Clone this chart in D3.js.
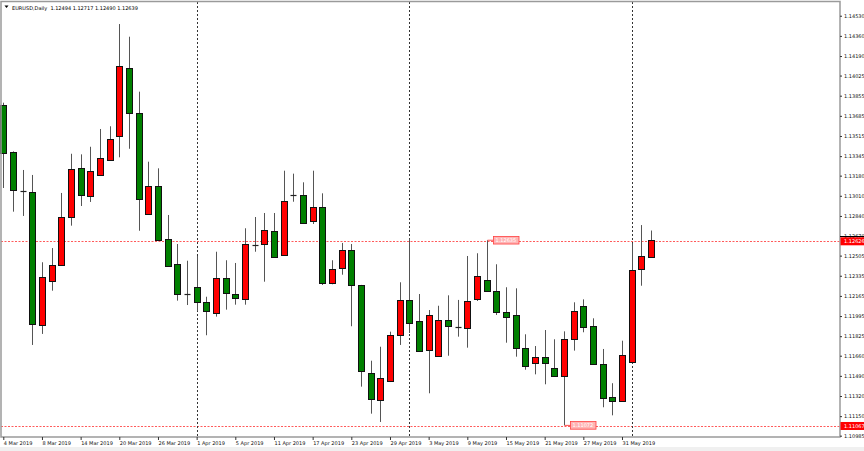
<!DOCTYPE html>
<html><head><meta charset="utf-8">
<script src="https://cdn.jsdelivr.net/npm/d3@7"></script>
<style>
body{margin:0;background:#fff}
svg{display:block}
text{font-family:"DejaVu Sans",sans-serif}
</style></head>
<body><svg id="chart" width="864" height="451"></svg>
<script>
// ---- data ----
const dates = [
 "2019-03-04","2019-03-05","2019-03-06","2019-03-07","2019-03-08",
 "2019-03-11","2019-03-12","2019-03-13","2019-03-14","2019-03-15",
 "2019-03-18","2019-03-19","2019-03-20","2019-03-21","2019-03-22",
 "2019-03-25","2019-03-26","2019-03-27","2019-03-28","2019-03-29",
 "2019-04-01","2019-04-02","2019-04-03","2019-04-04","2019-04-05",
 "2019-04-08","2019-04-09","2019-04-10","2019-04-11","2019-04-12",
 "2019-04-15","2019-04-16","2019-04-17","2019-04-18","2019-04-19",
 "2019-04-22","2019-04-23","2019-04-24","2019-04-25","2019-04-26",
 "2019-04-29","2019-04-30","2019-05-01","2019-05-02","2019-05-03",
 "2019-05-06","2019-05-07","2019-05-08","2019-05-09","2019-05-10",
 "2019-05-13","2019-05-14","2019-05-15","2019-05-16","2019-05-17",
 "2019-05-20","2019-05-21","2019-05-22","2019-05-23","2019-05-24",
 "2019-05-27","2019-05-28","2019-05-29","2019-05-30","2019-05-31",
 "2019-06-03","2019-06-04","2019-06-05"
];
const openP = [
 1.13776,1.13380,1.13053,1.13045,1.11920,1.12291,1.12423,1.12829,1.13247,1.13006,
 1.13183,1.13315,1.13515,1.14091,1.13709,1.12859,1.13095,1.12643,1.12432,1.12181,
 1.12240,1.12114,1.12023,1.12316,1.12179,1.12142,1.12590,1.12601,1.12713,1.12508,
 1.13021,1.13019,1.12797,1.12915,1.12272,1.12398,1.12550,1.12255,1.11517,1.11289,
 1.11444,1.11833,1.12128,1.11956,1.11711,1.11660,1.11962,1.11888,1.11892,1.12136,
 1.12297,1.12209,1.12029,1.12001,1.11725,1.11596,1.11652,1.11559,1.11492,1.11801,
 1.12077,1.11914,1.11593,1.11309,1.11281,1.11607,1.12392,1.12494
];
const highP = [
 1.13796,1.13385,1.13228,1.13186,1.12449,1.12569,1.13034,1.13365,1.13360,1.13424,
 1.13574,1.13597,1.14460,1.14353,1.13889,1.13298,1.13242,1.12848,1.12603,1.12462,
 1.12502,1.12158,1.12538,1.12466,1.12443,1.12736,1.12831,1.12865,1.12865,1.13222,
 1.13197,1.13124,1.13222,1.13031,1.12466,1.12612,1.12603,1.12258,1.11618,1.11736,
 1.11863,1.12280,1.12650,1.12181,1.12046,1.12082,1.12170,1.12131,1.12502,1.12525,
 1.12635,1.12432,1.12238,1.12229,1.11841,1.11742,1.11877,1.11799,1.11866,1.12111,
 1.12136,1.11976,1.11717,1.11428,1.11787,1.12609,1.12763,1.12717
];
const lowP = [
 1.13076,1.12876,1.12840,1.11751,1.11844,1.12209,1.12420,1.12758,1.12924,1.12958,
 1.13180,1.13312,1.13335,1.13407,1.12715,1.12848,1.12635,1.12412,1.12125,1.12088,
 1.12038,1.11833,1.11990,1.12049,1.12091,1.12091,1.12538,1.12285,1.12491,1.12505,
 1.12960,1.12780,1.12772,1.12257,1.12263,1.12344,1.11909,1.11399,1.11171,1.11101,
 1.11438,1.11751,1.11852,1.11700,1.11343,1.11657,1.11660,1.11821,1.11728,1.12122,
 1.12201,1.12004,1.11770,1.11652,1.11542,1.11503,1.11419,1.11483,1.11072,1.11703,
 1.11858,1.11585,1.11225,1.11157,1.11270,1.11596,1.12251,1.12490
];
const closeP = [
 1.13374,1.13059,1.13042,1.11928,1.12322,1.12426,1.12834,1.13236,1.13019,1.13222,
 1.13329,1.13487,1.14105,1.13711,1.12985,1.13095,1.12637,1.12420,1.12184,1.12173,
 1.12111,1.12035,1.12314,1.12187,1.12150,1.12606,1.12595,1.12719,1.12496,1.12966,
 1.13019,1.12783,1.12915,1.12277,1.12392,1.12555,1.12260,1.11531,1.11295,1.11470,
 1.11838,1.12133,1.11939,1.11703,1.12004,1.11962,1.11909,1.11900,1.12122,1.12331,
 1.12204,1.12027,1.11990,1.11728,1.11574,1.11649,1.11596,1.11492,1.11799,1.12040,
 1.11903,1.11588,1.11303,1.11278,1.11669,1.12381,1.12499,1.12639
];
const yTickLabels = ["1.14530","1.14360","1.14190","1.14025","1.13855","1.13685","1.13515",
 "1.13345","1.13180","1.13010","1.12840","1.12670","1.12505","1.12335","1.12165","1.11995",
 "1.11825","1.11660","1.11490","1.11320","1.11150","1.10985"];
const xTickDates = ["2019-03-04","2019-03-08","2019-03-14","2019-03-20","2019-03-26","2019-04-01",
 "2019-04-05","2019-04-11","2019-04-17","2019-04-23","2019-04-29","2019-05-03","2019-05-09",
 "2019-05-15","2019-05-21","2019-05-27","2019-05-31"];
const xTickLabels = ["4 Mar 2019","8 Mar 2019","14 Mar 2019","20 Mar 2019","26 Mar 2019","1 Apr 2019",
 "5 Apr 2019","11 Apr 2019","17 Apr 2019","23 Apr 2019","29 Apr 2019","3 May 2019","9 May 2019",
 "15 May 2019","21 May 2019","27 May 2019","31 May 2019"];
const separatorDates = ["2019-04-01","2019-05-01","2019-06-03"];
const titleText = "EURUSD,Daily  1.12494 1.12717 1.12490 1.12639";
const bidPrice = 1.12626;
const lowLinePrice = 1.11067;
const markHigh = {date:"2019-05-13", price:1.12635, label:"1.12635"};
const markLow  = {date:"2019-05-23", price:1.11072, label:"1.11072"};

// ---- layout ----
const W = 864, H = 451;
const plotL = 1, plotR = 840, plotT = 2, plotB = 437;
const svg = d3.select("#chart");

const x = d3.scalePoint().domain(dates).range([3.3, 651]);
const y = d3.scaleLinear().domain([1.10974, 1.14646]).range([plotB, plotT]);

svg.append("rect").attr("x",0).attr("y",0).attr("width",W).attr("height",H).attr("fill","#fff");
svg.append("rect").attr("x",0).attr("y",447).attr("width",W).attr("height",4).attr("fill","#f0f0f0");

// horizontal dotted lines
[bidPrice, lowLinePrice].forEach(p=>{
  svg.append("line").attr("x1",plotL).attr("x2",plotR)
    .attr("y1",Math.round(y(p))+0.5).attr("y2",Math.round(y(p))+0.5)
    .attr("stroke","#ff5a5a").attr("stroke-width",1).attr("stroke-dasharray","2,1.5");
});

// period separators
separatorDates.forEach(d=>{
  const xx = Math.round(x(d))+0.5;
  svg.append("line").attr("x1",xx).attr("x2",xx).attr("y1",plotT).attr("y2",plotB)
    .attr("stroke","#333").attr("stroke-width",1).attr("stroke-dasharray","2,2");
});

// candles
const data = dates.map((d,i)=>({d, o:openP[i], h:highP[i], l:lowP[i], c:closeP[i]}));
const g = svg.append("g");
data.forEach(b=>{
  const r = Math.round(x(b.d));
  g.append("line").attr("x1",r+0.5).attr("x2",r+0.5)
    .attr("y1",y(b.h)).attr("y2",y(b.l)).attr("stroke","#555").attr("stroke-width",1);
  const top = y(Math.max(b.o,b.c)), bot = y(Math.min(b.o,b.c));
  const up = b.c > b.o;
  if (bot - top < 1.5) {
    g.append("line").attr("x1",r-2.5).attr("x2",r+3.5)
      .attr("y1",Math.round(top)+0.5).attr("y2",Math.round(top)+0.5)
      .attr("stroke","#222").attr("stroke-width",1.2);
  } else {
    g.append("rect").attr("x",r-2.5).attr("y",Math.round(top)+0.5)
      .attr("width",6).attr("height",Math.max(1,Math.round(bot)-Math.round(top)))
      .attr("fill", up ? "#ff0000" : "#008000")
      .attr("stroke","#111").attr("stroke-width",1);
  }
});

// frame
svg.append("rect").attr("x",plotL).attr("y",plotT-0.5).attr("width",plotR-plotL).attr("height",plotB-plotT+0.5)
  .attr("fill","none").attr("stroke","#9a9a9a").attr("stroke-width",1.5);

// right axis
const yAxis = d3.axisRight(y).tickValues(yTickLabels.map(Number))
  .tickFormat((d,i)=>yTickLabels[i]).tickSize(2).tickPadding(2);
const ya = svg.append("g").attr("transform",`translate(${plotR},0)`).call(yAxis);
ya.select(".domain").remove();
ya.selectAll("line").attr("stroke","#333");
ya.selectAll("text").attr("font-size",5).attr("fill","#111").attr("font-family","DejaVu Sans");

// bottom axis
const xAxis = d3.axisBottom(x).tickValues(xTickDates)
  .tickFormat((d,i)=>xTickLabels[i]).tickSize(3).tickPadding(1.5);
const xa = svg.append("g").attr("transform",`translate(0,${plotB})`).call(xAxis);
xa.select(".domain").remove();
xa.selectAll("line").attr("stroke","#333");
xa.selectAll("text").attr("font-size",5).attr("fill","#111").attr("text-anchor","start")
  .attr("font-family","DejaVu Sans");

// price labels on right axis
function axisLabel(p, label){
  const yy = y(p);
  svg.append("rect").attr("x",plotR+0.5).attr("y",yy-4).attr("width",W-plotR).attr("height",8).attr("fill","#ff0000");
  svg.append("text").attr("x",plotR+4).attr("y",yy+1.8).attr("font-size",5).attr("fill","#fff").text(label);
}
svg.append("line").attr("x1",plotR).attr("x2",W).attr("y1",Math.round(y(bidPrice))-4.5).attr("y2",Math.round(y(bidPrice))-4.5)
  .attr("stroke","#000").attr("stroke-width",1);
axisLabel(bidPrice, bidPrice.toFixed(5));
axisLabel(lowLinePrice, lowLinePrice.toFixed(5));

// high/low markers
function marker(m){
  const cx = Math.round(x(m.date))+0.5, yy = y(m.price);
  svg.append("line").attr("x1",cx).attr("x2",cx+6).attr("y1",yy).attr("y2",yy).attr("stroke","#ff5050");
  svg.append("rect").attr("x",cx+6).attr("y",yy-3.8).attr("width",25.5).attr("height",7.6)
    .attr("fill","#ffb4b4").attr("stroke","#ff4040").attr("stroke-width",0.8);
  svg.append("text").attr("x",cx+8).attr("y",yy+1.8).attr("font-size",5).attr("fill","#fff").text(m.label);
}
marker(markHigh); marker(markLow);

// title
svg.append("path").attr("d","M4.5,5.5 L8.5,5.5 L6.5,8 Z").attr("fill","#000");
svg.append("text").attr("x",12).attr("y",9.5).attr("font-size",5).attr("fill","#000")
  .attr("xml:space","preserve").style("white-space","pre").text(titleText);
</script></body></html>
